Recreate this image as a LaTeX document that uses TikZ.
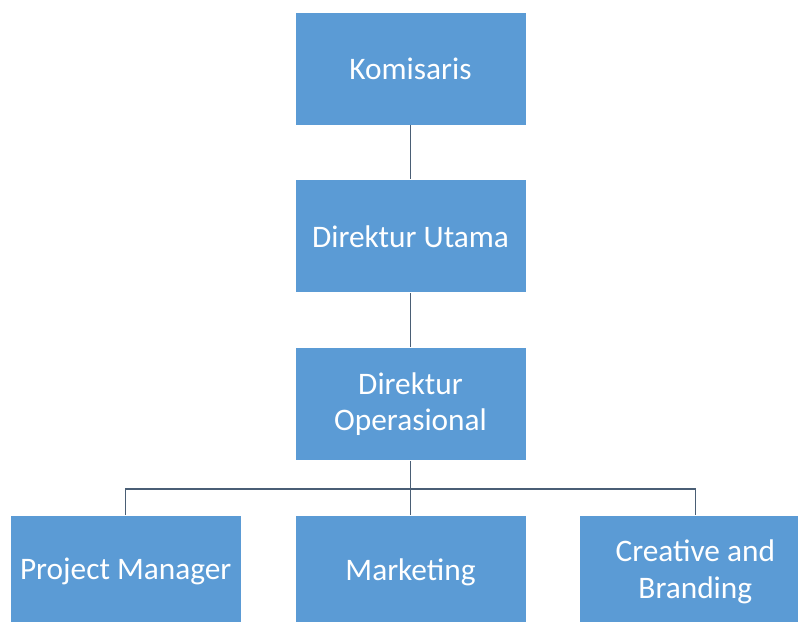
\documentclass[tikz,border=0pt]{standalone}
\usepackage{fontspec}
\setmainfont{Carlito}
\usepackage{tikz}
\usetikzlibrary{positioning}
\definecolor{orgblue}{HTML}{5B9BD5}
\definecolor{orgline}{HTML}{4A5E75}

\tikzset{
  orgbox/.style={draw=white, line width=0.6pt, fill=orgblue, text=white, align=center,
    minimum width=173.25pt, minimum height=84.75pt, inner sep=0pt},
  orglink/.style={draw=orgline, line width=1.1pt}
}

\begin{document}
\begin{tikzpicture}[x=0.75pt, y=-0.75pt, node distance=40.5pt and 39.75pt,
  every node/.style={font=\fontsize{23.5}{27.5}\selectfont}]
  \useasboundingbox (0,0) rectangle (798,621);
  \clip (0,0) rectangle (798,621);
  \fill[white] (0,0) rectangle (798,621);
  % struktur organisasi
  \node[orgbox] (kom) at (410.5,68.5) {Komisaris};
  \node[orgbox, below=of kom] (dirut) {Direktur Utama};
  \node[orgbox, below=of dirut] (dirops) {Direktur\\Operasional};
  \node[orgbox, below=of dirops] (mkt) {Marketing};
  \node[orgbox, left=of mkt] (pm) {Project Manager};
  \node[orgbox, right=of mkt] (creative) {Creative and\\Branding};
  \draw[orglink] (kom) -- (dirut);
  \draw[orglink] (dirut) -- (dirops);
  \draw[orglink] (dirops) -- (mkt);
  \draw[orglink] (pm.north) -- ++(0,-26) -| (creative.north);
\end{tikzpicture}
\end{document}
